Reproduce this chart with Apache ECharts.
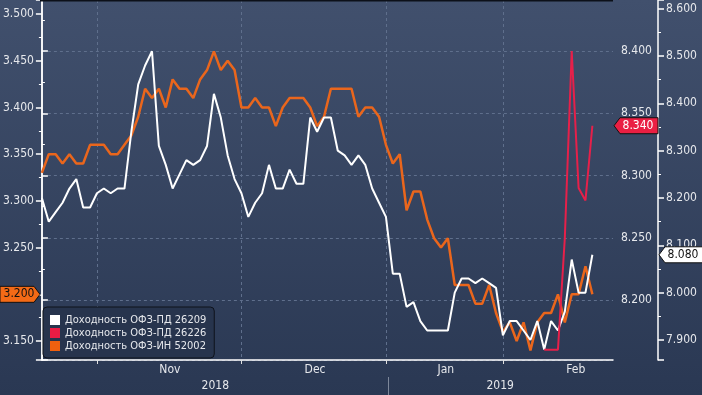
<!DOCTYPE html>
<html><head><meta charset="utf-8">
<script src="https://cdn.jsdelivr.net/npm/echarts@6/dist/echarts.min.js"></script>
<style>html,body{margin:0;padding:0;background:#2c3a55}#c{width:702px;height:395px}</style>
</head><body><div id="c"></div>
<script>
const dates = [
 '2018-10-22','2018-10-23','2018-10-24','2018-10-25','2018-10-26','2018-10-29','2018-10-30','2018-10-31',
 '2018-11-01','2018-11-02','2018-11-06','2018-11-07','2018-11-08','2018-11-09','2018-11-12','2018-11-13','2018-11-14','2018-11-15','2018-11-16','2018-11-19','2018-11-20','2018-11-21','2018-11-22','2018-11-23','2018-11-26','2018-11-27','2018-11-28','2018-11-29','2018-11-30',
 '2018-12-03','2018-12-04','2018-12-05','2018-12-06','2018-12-07','2018-12-10','2018-12-11','2018-12-12','2018-12-13','2018-12-14','2018-12-17','2018-12-18','2018-12-19','2018-12-20','2018-12-21','2018-12-24','2018-12-25','2018-12-26','2018-12-27','2018-12-28','2018-12-29',
 '2019-01-09','2019-01-10','2019-01-11','2019-01-14','2019-01-15','2019-01-16','2019-01-17','2019-01-18','2019-01-21','2019-01-22','2019-01-23','2019-01-24','2019-01-25','2019-01-28','2019-01-29','2019-01-30','2019-01-31',
 '2019-02-01','2019-02-04','2019-02-05','2019-02-06','2019-02-07','2019-02-08','2019-02-11','2019-02-12','2019-02-13','2019-02-14','2019-02-15','2019-02-18','2019-02-19','2019-02-20'
];
const padDates = ['2019-02-21','2019-02-22','2019-02-25'];

// ОФЗ-ПД 26209 (white, outer right axis)
const white26209 = [
 8.20,8.15,8.17,8.19,8.22,8.24,8.18,8.18,8.21,8.22,
 8.21,8.22,8.22,8.34,8.44,8.48,8.51,8.31,8.27,8.22,
 8.25,8.28,8.27,8.28,8.31,8.42,8.37,8.29,8.24,8.21,
 8.16,8.19,8.21,8.27,8.22,8.22,8.26,8.23,8.23,8.37,
 8.34,8.37,8.37,8.30,8.29,8.27,8.29,8.27,8.22,8.19,
 8.16,8.04,8.04,7.97,7.98,7.94,7.92,7.92,7.92,7.92,
 8.00,8.03,8.03,8.02,8.03,8.02,8.01,7.91,7.94,7.94,
 7.92,7.90,7.94,7.88,7.94,7.92,7.96,8.07,8.00,8.00,
 8.08
];
// ОФЗ-ИН 52002 (orange, left axis)
const orange52002 = [
 3.33,3.35,3.35,3.34,3.35,3.34,3.34,3.36,3.36,3.36,
 3.35,3.35,3.36,3.37,3.39,3.42,3.41,3.42,3.40,3.43,
 3.42,3.42,3.41,3.43,3.44,3.46,3.44,3.45,3.44,3.40,
 3.40,3.41,3.40,3.40,3.38,3.40,3.41,3.41,3.41,3.40,
 3.38,3.39,3.42,3.42,3.42,3.42,3.39,3.40,3.40,3.39,
 3.36,3.34,3.35,3.29,3.31,3.31,3.28,3.26,3.25,3.26,
 3.21,3.21,3.21,3.19,3.19,3.21,3.18,3.16,3.17,3.15,
 3.17,3.14,3.17,3.18,3.18,3.20,3.17,3.20,3.20,3.23,
 3.20
];
// ОФЗ-ПД 26226 (red, inner right axis)
const redDates = ['2019-02-11','2019-02-12','2019-02-13','2019-02-14','2019-02-15','2019-02-18','2019-02-19','2019-02-20'];
const red26226 = [8.16,8.16,8.16,8.25,8.40,8.29,8.28,8.34];

const seriesNames = ['Доходность ОФЗ-ПД 26209','Доходность ОФЗ-ПД 26226','Доходность ОФЗ-ИН 52002'];
const monthLabels = ['Nov','Dec','Jan','Feb'];
const monthLabelPos = [18.6, 39.7, 58.7, 77.6];
const yearLabels = ['2018','2019'];
const yearLabelPos = [25.2, 66.6];
const yearBreakPos = [50.4];

const allCats = dates.concat(padDates);
const monthStart = new Set();
for (let i = 1; i < dates.length; i++) if (dates[i].slice(0,7) !== dates[i-1].slice(0,7)) monthStart.add(i);

const FONT = "'DejaVu Sans Condensed','DejaVu Sans',sans-serif";
const TXT = '#e6e8ec';
const WHITE = '#ffffff', RED = '#e6204a', ORANGE = '#ea661c';

function nearestLabel(v, pos, labels) {
  let b = 0; for (let i = 1; i < pos.length; i++) if (Math.abs(pos[i]-v) < Math.abs(pos[b]-v)) b = i;
  return labels[b];
}

const chart = echarts.init(document.getElementById('c'), null, {renderer: 'canvas'});
const option = {
  animation: false,
  backgroundColor: new echarts.graphic.LinearGradient(0,0,0,1,[{offset:0,color:'#41506d'},{offset:1,color:'#2a3853'}]),
  textStyle: {fontFamily: FONT},
  grid: {left: 40, right: 89, top: 0, bottom: 35},
  legend: {
    orient: 'vertical', left: 43, top: 307,
    data: seriesNames,
    icon: 'rect', itemWidth: 10, itemHeight: 10, itemGap: 1,
    padding: [7, 8, 6, 7],
    backgroundColor: '#27344d', borderColor: '#0e121b', borderWidth: 1, borderRadius: 4,
    textStyle: {color: TXT, fontSize: 11, fontFamily: FONT, lineHeight: 12}
  },
  xAxis: [
    {
      type: 'category', data: allCats, boundaryGap: false,
      axisLine: {lineStyle: {color: '#ffffff', width: 1.5}},
      axisTick: {show: true, length: 4, interval: (i) => monthStart.has(i), lineStyle: {color: '#e0e0e0'}},
      axisLabel: {show: false},
      splitLine: {show: true, interval: (i) => monthStart.has(i), lineStyle: {color: '#5f6f8c', type: [3,3], width: 1}}
    },
    {
      type: 'value', min: 0, max: allCats.length - 1, position: 'bottom', offset: 0,
      axisLine: {show: false}, axisTick: {show: false}, splitLine: {show: false},
      axisLabel: {show: true, customValues: monthLabelPos, margin: 4, color: TXT, fontSize: 12, fontFamily: FONT,
        formatter: (v) => nearestLabel(v, monthLabelPos, monthLabels)}
    },
    {
      type: 'value', min: 0, max: allCats.length - 1, position: 'bottom', offset: 17,
      axisLine: {show: false}, splitLine: {show: false},
      axisTick: {show: true, customValues: yearBreakPos, length: 18, lineStyle: {color: '#7d879a'}},
      axisLabel: {show: true, customValues: yearLabelPos, margin: 3, color: TXT, fontSize: 12, fontFamily: FONT,
        formatter: (v) => nearestLabel(v, yearLabelPos, yearLabels)}
    }
  ],
  yAxis: [
    {
      type: 'value', position: 'left', min: 3.1297, max: 3.515, splitNumber: 8,
      axisLine: {show: true, lineStyle: {color: '#ffffff', width: 1.5}},
      axisTick: {show: true, length: 6, lineStyle: {color: '#ffffff', width: 1.5}},
      minorTick: {show: true, splitNumber: 2, length: 3, lineStyle: {color: '#ffffff'}},
      axisLabel: {color: TXT, fontSize: 12, fontFamily: FONT, margin: 8, showMinLabel: false, showMaxLabel: false,
        formatter: (v) => v.toFixed(3)},
      splitLine: {show: false}
    },
    {
      type: 'value', position: 'right', offset: 0, min: 8.1518, max: 8.441, splitNumber: 5,
      axisLine: {show: true, lineStyle: {color: '#ffffff', width: 1.5}},
      axisTick: {show: true, length: 6, lineStyle: {color: '#ffffff', width: 1.5}},
      minorTick: {show: true, splitNumber: 2, length: 3, lineStyle: {color: '#ffffff'}},
      axisLabel: {color: TXT, fontSize: 12, fontFamily: FONT, margin: 8, showMinLabel: false, showMaxLabel: false,
        formatter: (v) => v.toFixed(3)},
      splitLine: {show: true, lineStyle: {color: '#5f6f8c', type: [3,3], width: 1}}
    },
    {
      type: 'value', position: 'right', offset: 45, min: 7.8577, max: 8.6184, splitNumber: 7,
      axisLine: {show: true, lineStyle: {color: '#ffffff', width: 1.5}},
      axisTick: {show: true, length: 6, lineStyle: {color: '#ffffff', width: 1.5}},
      minorTick: {show: true, splitNumber: 2, length: 3, lineStyle: {color: '#ffffff'}},
      axisLabel: {color: TXT, fontSize: 12, fontFamily: FONT, margin: 8, showMinLabel: false, showMaxLabel: false,
        formatter: (v) => v.toFixed(3)},
      splitLine: {show: false}
    }
  ],
  series: [
    {name: seriesNames[2], type: 'line', xAxisIndex: 0, yAxisIndex: 0, data: orange52002, showSymbol: false,
      lineStyle: {color: ORANGE, width: 2.5}, itemStyle: {color: '#f0600f'}, z: 2},
    {name: seriesNames[0], type: 'line', xAxisIndex: 0, yAxisIndex: 2, data: white26209, showSymbol: false,
      lineStyle: {color: WHITE, width: 2}, itemStyle: {color: WHITE}, z: 3},
    {name: seriesNames[1], type: 'line', xAxisIndex: 0, yAxisIndex: 1,
      data: redDates.map((d, k) => [d, red26226[k]]), showSymbol: false,
      lineStyle: {color: RED, width: 2}, itemStyle: {color: '#ea1c44'}, z: 4}
  ]
};
chart.setOption(option);

const last = dates.length - 1;
const yO = chart.convertToPixel({yAxisIndex: 0}, orange52002[last]);
const yR = chart.convertToPixel({yAxisIndex: 1}, red26226[red26226.length - 1]);
const yW = chart.convertToPixel({yAxisIndex: 2}, white26209[last]);
const h = 8;
function txt(x, y, s, color) {
  return {type: 'text', x: x, y: y, z: 101, silent: true,
    style: {text: s, fill: color, fontSize: 12, fontFamily: FONT, align: 'center', verticalAlign: 'middle', textAlign: 'center', textVerticalAlign: 'middle'}};
}
chart.setOption({
  graphic: [
    {type: 'rect', shape: {x: 40, y: 0, width: 573, height: 1.5}, style: {fill: '#0c1019'}, z: 100, silent: true},
    {type: 'polygon', z: 100, silent: true, shape: {points: [[0,yO-h],[34,yO-h],[40,yO],[34,yO+h],[0,yO+h]]},
      style: {fill: '#f46a16', stroke: '#111', lineWidth: 1}},
    txt(19, yO, orange52002[last].toFixed(3), '#111'),
    {type: 'polygon', z: 100, silent: true, shape: {points: [[614,yR],[620,yR-h],[658,yR-h],[658,yR+h],[620,yR+h]]},
      style: {fill: '#ea1f43', stroke: '#111', lineWidth: 1}},
    txt(638, yR, red26226[red26226.length - 1].toFixed(3), '#ffffff'),
    {type: 'polygon', z: 100, silent: true, shape: {points: [[659,yW],[665,yW-h],[703,yW-h],[703,yW+h],[665,yW+h]]},
      style: {fill: '#ffffff', stroke: '#111', lineWidth: 1}},
    txt(683, yW, white26209[last].toFixed(3), '#111')
  ]
});
</script></body></html>
